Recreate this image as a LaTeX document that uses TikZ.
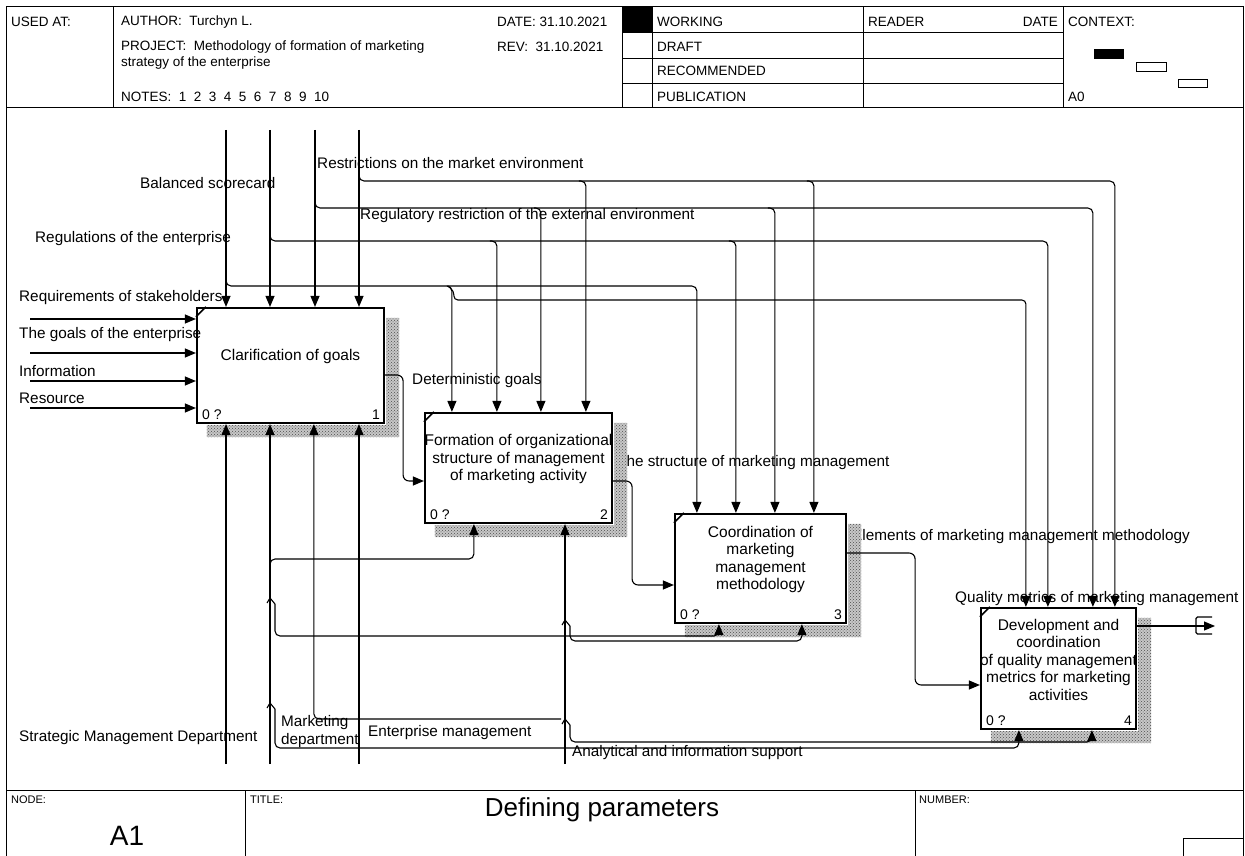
\documentclass[tikz,border=0pt]{standalone}
\usepackage{fontspec}
\setmainfont{Liberation Sans}
\usepackage{tikz}
\usetikzlibrary{arrows.meta, positioning, calc, patterns}

\begin{document}
\begin{tikzpicture}[x=1pt, y=-1pt,
    fbox/.style={draw, line width=2.2pt, fill=white, inner sep=0pt},
    ttl/.style={align=center, font=\fontsize{15.5}{17.5}\selectfont, inner sep=0pt},
    tag/.style={font=\fontsize{14}{14}\selectfont, inner sep=0pt},
    lbl/.style={font=\fontsize{15.3}{18}\selectfont, inner sep=0pt, anchor=west, align=left},
    hdr/.style={font=\fontsize{13.5}{13.5}\selectfont, inner sep=0pt, anchor=west},
    ftr/.style={font=\fontsize{11}{11}\selectfont, inner sep=0pt, anchor=west},
    ln/.style={line width=1.1pt},
    arr/.style={line width=1.1pt, -{Triangle[length=11pt,width=9pt]}},
    shd/.style={fill=black!22, postaction={pattern=crosshatch dots, pattern color=black!70}}]

\useasboundingbox (0,0) rectangle (1245,856);
\fill[white] (0,0) rectangle (1245,856);

% frame, header and footer
\draw[line width=1pt] (6,856) -- (6,7) -- (1243,7) -- (1243,856);
\draw[line width=1pt] (6,108) -- (1243,108) (6,790) -- (1243,790);
\draw[line width=1pt] (113,7) -- (113,108) (622,7) -- (622,108) (652,7) -- (652,108)
    (863,7) -- (863,108) (1063,7) -- (1063,108);
\draw[line width=1pt] (622,33) -- (1063,33) (622,59) -- (1063,59) (622,84) -- (1063,84);
\fill (622,7) rectangle (652,33);
\fill (1094,49) rectangle (1124,59);
\draw[line width=1pt] (1136,63) rectangle (1166,72) (1178,80) rectangle (1207,88);
\draw[line width=1pt] (245,790) -- (245,856) (915,790) -- (915,856);
\draw[line width=1pt] (1183,856) -- (1183,838) -- (1243,838);

\node[hdr] (usedat) at (11,22) {USED AT:};
\node[hdr] (author) at (121,22) {AUTHOR:\ \ Turchyn L.};
\node[hdr] (date) at (497,22) {DATE:\ 31.10.2021};
\node[hdr] (project) at (121,47) {PROJECT:\ \ Methodology of formation of marketing};
\node[hdr] (project2) at (121,63) {strategy of the enterprise};
\node[hdr] (rev) at (497,47) {REV:\ \ 31.10.2021};
\node[hdr] (notes) at (121,97) {NOTES:\ \ 1\ \ 2\ \ 3\ \ 4\ \ 5\ \ 6\ \ 7\ \ 8\ \ 9\ \ 10};
\node[hdr] (working) at (657,22) {WORKING};
\node[hdr] (draft) at (657,47) {DRAFT};
\node[hdr] (recomm) at (657,71) {RECOMMENDED};
\node[hdr] (publ) at (657,97) {PUBLICATION};
\node[hdr] (reader) at (868,22) {READER};
\node[hdr, anchor=east] (rdate) at (1058,22) {DATE};
\node[hdr] (context) at (1068,22) {CONTEXT:};
\node[hdr] (ctxnode) at (1068,97) {A0};

\node[ftr] (nodelbl) at (11,800) {NODE:};
\node[ftr] (titlelbl) at (250,800) {TITLE:};
\node[ftr] (numlbl) at (919,800) {NUMBER:};
\node[font=\fontsize{28}{28}\selectfont, inner sep=0pt] (nodeid) at (127,836) {A1};
\node[font=\fontsize{26}{26}\selectfont, inner sep=0pt] (diagtitle) at (602,810) {Defining parameters};

% activity boxes
\node[fbox, minimum width=187pt, minimum height=115pt] (b1) at (290.5,365.5) {};
\node[fbox, minimum width=187pt, minimum height=110pt] (b2) at (518.5,468) {};
\node[fbox, minimum width=171pt, minimum height=109pt] (b3) at (760.5,568.5) {};
\node[fbox, minimum width=155pt, minimum height=121pt] (b4) at (1058.5,668.5) {};

% arrow labels
\node[lbl] (l1) at (317,163) {Restrictions on the market environment};
\node[lbl] (l2) at (140,183) {Balanced scorecard};
\node[lbl] (l3) at (360,216) {Regulatory restriction of the external environment};
\node[lbl] (l4) at (35,239) {Regulations of the enterprise};
\node[lbl] (l5) at (19,298) {Requirements of stakeholders};
\node[lbl] (l6) at (19,335) {The goals of the enterprise};
\node[lbl] (l7) at (19,371) {Information};
\node[lbl] (l8) at (19,398) {Resource};
\node[lbl] (l9) at (412,381) {Deterministic goals};
\node[lbl] (l10) at (617,463) {The structure of marketing management};
\node[lbl] (l11) at (852,537) {Elements of marketing management methodology};
\node[lbl] (l12) at (955,599) {Quality metrics of marketing management};
\node[lbl] (l13) at (19,738) {Strategic Management Department};
\node[lbl] (l14) at (281,732) {Marketing\\department};
\node[lbl] (l15) at (368,733) {Enterprise management};
\node[lbl] (l16) at (572,753) {Analytical and information support};

% shadows
\foreach \b in {b1,b2,b3,b4}
  \fill[shd] ([xshift=1.1pt,yshift=-11pt]\b.north east) rectangle ([xshift=14pt,yshift=-13pt]\b.south east)
             ([xshift=11pt,yshift=-1.1pt]\b.south west) rectangle ([xshift=14pt,yshift=-13pt]\b.south east);

% sources and rows
\coordinate (ct1) at (226,130);
\coordinate (ct2) at (270,130);
\coordinate (ct3) at (315,130);
\coordinate (ct4) at (359,130);
\coordinate (mc1) at (226,764);
\coordinate (mc2) at (270,764);
\coordinate (mc4) at (359,764);
\coordinate (mc5) at (565,764);
\coordinate (in1) at (30,319);
\coordinate (in2) at (30,353);
\coordinate (in3) at (30,381);
\coordinate (in4) at (30,408);
\coordinate (rowA) at (0,181);
\coordinate (rowB) at (0,208);
\coordinate (rowC) at (0,241);
\coordinate (rowD) at (0,286);
\coordinate (rowE) at (0,300);
\coordinate (rowF) at (0,559);
\coordinate (rowG) at (0,598);
\coordinate (rowH) at (0,636);
\coordinate (rowI) at (0,620);
\coordinate (rowK) at (0,641);
\coordinate (rowL) at (0,703);
\coordinate (rowM) at (0,748);
\coordinate (rowJ) at (0,719);
\coordinate (rowN) at (0,742);
\coordinate (b2c1) at ([xshift=28pt]b2.north west);
\coordinate (b2c2) at ([xshift=73pt]b2.north west);
\coordinate (b2c3) at ([xshift=117pt]b2.north west);
\coordinate (b2c4) at ([xshift=162pt]b2.north west);
\coordinate (b3c1) at ([xshift=23pt]b3.north west);
\coordinate (b3c2) at ([xshift=62pt]b3.north west);
\coordinate (b3c3) at ([xshift=101pt]b3.north west);
\coordinate (b3c4) at ([xshift=140pt]b3.north west);
\coordinate (b4c1) at ([xshift=46pt]b4.north west);
\coordinate (b4c2) at ([xshift=68pt]b4.north west);
\coordinate (b4c3) at ([xshift=113pt]b4.north west);
\coordinate (b4c4) at ([xshift=135pt]b4.north west);
\coordinate (b1m3) at ([xshift=118pt]b1.south west);
\coordinate (b2m1) at ([xshift=50pt]b2.south west);
\coordinate (b3m1) at ([xshift=45pt]b3.south west);
\coordinate (b3m2) at ([xshift=128pt]b3.south west);
\coordinate (b4m1) at ([xshift=39pt]b4.south west);
\coordinate (b4m2) at ([xshift=112pt]b4.south west);
\coordinate (ex) at (1215,626);

% inputs
\foreach \i in {in1,in2,in3,in4}
  \draw[arr] (\i) -- (\i -| b1.west);

% controls
\foreach \c in {ct1,ct2,ct3,ct4}
  \draw[arr] (\c) -- (\c |- b1.north);
\draw[arr, rounded corners=5pt] ($(ct4 |- rowA)+(0,-8)$) -- (ct4 |- rowA) -| (b4c4);
\draw[arr, rounded corners=5pt] ($(b2c4 |- rowA)+(-7,0)$) -| (b2c4);
\draw[arr, rounded corners=5pt] ($(b3c4 |- rowA)+(-7,0)$) -| (b3c4);
\draw[arr, rounded corners=5pt] ($(ct3 |- rowB)+(0,-8)$) -- (ct3 |- rowB) -| (b4c3);
\draw[arr, rounded corners=5pt] ($(b2c3 |- rowB)+(-7,0)$) -| (b2c3);
\draw[arr, rounded corners=5pt] ($(b3c3 |- rowB)+(-7,0)$) -| (b3c3);
\draw[arr, rounded corners=5pt] ($(ct2 |- rowC)+(0,-8)$) -- (ct2 |- rowC) -| (b4c2);
\draw[arr, rounded corners=5pt] ($(b2c2 |- rowC)+(-7,0)$) -| (b2c2);
\draw[arr, rounded corners=5pt] ($(b3c2 |- rowC)+(-7,0)$) -| (b3c2);
\draw[arr, rounded corners=5pt] ($(ct1 |- rowD)+(0,-8)$) -- (ct1 |- rowD) -| (b2c1);
\draw[arr, rounded corners=5pt] ($(b2c1 |- rowD)+(-5,0)$) -| (b3c1);
\draw[arr, rounded corners=4pt] ($(b2c1 |- rowD)+(-4,0)$) -- ($(b2c1 |- rowD)+(2,5)$) |- (rowE -| b4c1) -- (b4c1);

% mechanisms
\foreach \m in {mc1,mc2,mc4}
  \draw[arr] (\m) -- (\m |- b1.south);
\draw[arr] (mc5) -- (mc5 |- b2.south);
\draw[arr, rounded corners=5pt] ($(mc2 |- rowF)+(0,7)$) -- (mc2 |- rowF) -| (b2m1);
\draw[ln] ($(mc2 |- rowG)+(-3,5)$) -- (mc2 |- rowG) -- ($(mc2 |- rowG)+(5,6)$);
\draw[arr, rounded corners=5pt] ($(mc2 |- rowG)+(5,6)$) |- (rowH -| b3m1) -- (b3m1);
\draw[ln] ($(mc2 |- rowL)+(-3,5)$) -- (mc2 |- rowL) -- ($(mc2 |- rowL)+(5,6)$);
\draw[arr, rounded corners=5pt] ($(mc2 |- rowL)+(5,6)$) |- (rowM -| b4m1) -- (b4m1);
\draw[ln] ($(mc5 |- rowI)+(-3,5)$) -- (mc5 |- rowI) -- ($(mc5 |- rowI)+(5,6)$);
\draw[arr, rounded corners=5pt] ($(mc5 |- rowI)+(5,6)$) |- (rowK -| b3m2) -- (b3m2);
\draw[ln] ($(mc5 |- rowJ)+(-3,5)$) -- (mc5 |- rowJ) -- ($(mc5 |- rowJ)+(5,6)$);
\draw[arr, rounded corners=5pt] ($(mc5 |- rowJ)+(5,6)$) |- (rowN -| b4m2) -- (b4m2);
\draw[arr, rounded corners=5pt] ($(mc5 |- rowJ)+(-4,0)$) -| (b1m3);

% outputs
\draw[arr, rounded corners=6pt] ([yshift=-9.5pt]b1.east) -- ++(18,0) |- ([yshift=-13pt]b2.west);
\draw[arr, rounded corners=6pt] ([yshift=-13pt]b2.east) -- ++(19,0) |- ([yshift=-16.5pt]b3.west);
\draw[arr, rounded corners=6pt] ([yshift=15.5pt]b3.east) -- ++(68,0) |- ([yshift=-16.5pt]b4.west);
\draw[arr] ([yshift=42.5pt]b4.east) -- (ex);
\draw[ln, rounded corners=1.5pt] ($(ex)+(-3,-9)$) -- ($(ex)+(-19,-9)$) -- ($(ex)+(-19,8)$) -- ($(ex)+(-3,8)$);

% box texts
\node[ttl] (t1) at ([yshift=9pt]b1.center) {Clarification of goals};
\node[ttl] (t2) at ([yshift=9pt]b2.center) {Formation of organizational\\structure of management\\of marketing activity};
\node[ttl] (t3) at ([yshift=9pt]b3.center) {Coordination of\\marketing\\management\\methodology};
\node[ttl] (t4) at ([yshift=9pt]b4.center) {Development and\\coordination\\of quality management\\metrics for marketing\\activities};
\foreach \b/\n in {b1/1,b2/2,b3/3,b4/4} {
  \node[tag, anchor=south west] (\b q) at ([xshift=6pt,yshift=4pt]\b.south west) {0 ?};
  \node[tag, anchor=south east] (\b n) at ([xshift=-5pt,yshift=4pt]\b.south east) {\n};
  \draw[line width=1.6pt] ([yshift=-10pt]\b.north west) -- ([xshift=10pt]\b.north west);
}
\end{tikzpicture}
\end{document}
